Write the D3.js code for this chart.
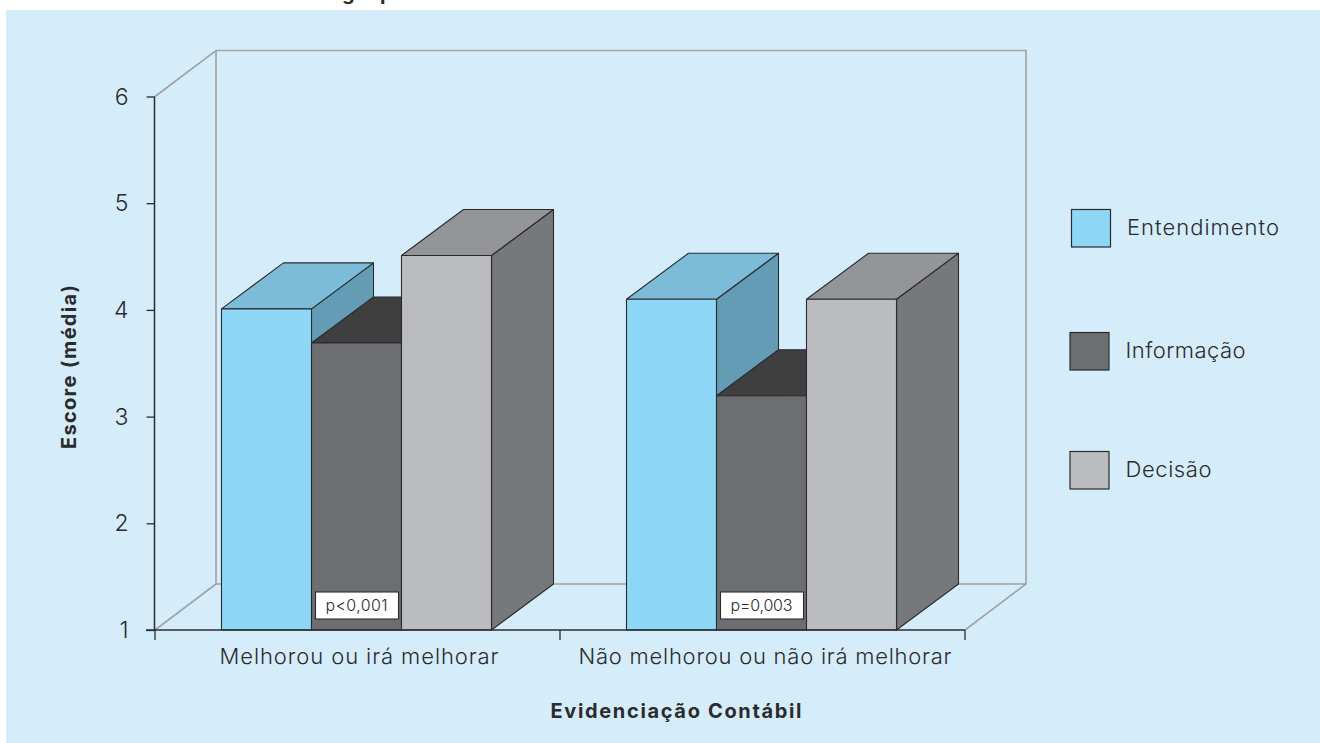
<!DOCTYPE html>
<html><head><meta charset="utf-8">
<script src="https://cdn.jsdelivr.net/npm/d3@7/dist/d3.min.js"></script>
<style>html,body{margin:0;padding:0;background:#fff}svg{display:block}
text{font-family:Inter,Roboto,sans-serif;fill:#2b2b2d}</style></head><body>
<script>
const categories=["Melhorou ou irá melhorar","Não melhorou ou não irá melhorar"];
const seriesNames=["Entendimento","Informação","Decisão"];
const entendimento=[4.01,4.10];
const informacao=[3.69,3.195];
const decisao=[4.51,4.10];
const series=[entendimento,informacao,decisao];
const yTicks=[1,2,3,4,5,6];
const pLabels=["p<0,001","p=0,003"];
const titleFragments=["g","p"];
const frontColors=["#8fd7f7","#6d6e71","#bbbcbf"];
const topColors=["#7cbcd9","#3f3f40","#939598"];
const sideColors=["#649cb6","#58585a","#77787b"];

const W=1320,H=743;
const svg=d3.select("body").append("svg").attr("width",W).attr("height",H);
svg.append("rect").attr("x",6).attr("y",10).attr("width",W-6).attr("height",H-10).attr("fill","#d5edfb");

const x0=155,x1=965,boxDx=61,dx=62,dy=-46;
const y=d3.scaleLinear().domain([1,6]).range([630,96.5]);
const xg=d3.scaleBand().domain(categories).range([x0-1,x1-1]).paddingInner(1/3).paddingOuter(1/6);
const xb=d3.scaleBand().domain(seriesNames).range([0,xg.bandwidth()]);

const g=svg.append("g");
const p=pts=>"M"+pts.map(a=>a.join(",")).join("L")+"Z";
g.append("path").attr("d",`M${x0},${y(6)}L${x0+boxDx},${y(6)+dy}H${x1+boxDx}V${y(1)+dy}H${x0+boxDx}V${y(6)+dy}M${x0},${y(1)}L${x0+boxDx},${y(1)+dy}M${x1},${y(1)}L${x1+boxDx},${y(1)+dy}`)
 .attr("fill","none").attr("stroke","#a0a2a4").attr("stroke-width",1.6);

categories.forEach((c,ci)=>{
  seriesNames.forEach((s,si)=>{
    const l=xg(c)+xb(s),r=l+xb.bandwidth(),t=y(series[si][ci]),b=y(1);
    const bar=g.append("g").attr("stroke","#2b2b2d").attr("stroke-width",1.1).attr("stroke-linejoin","round");
    bar.append("path").attr("d",p([[r,t],[r+dx,t+dy],[r+dx,b+dy],[r,b]])).attr("fill",sideColors[si]);
    bar.append("path").attr("d",p([[l,t],[l+dx,t+dy],[r+dx,t+dy],[r,t]])).attr("fill",topColors[si]);
    bar.append("rect").attr("x",l).attr("y",t).attr("width",r-l).attr("height",b-t).attr("fill",frontColors[si]);
  });
});

// axes
const ya=svg.append("g").attr("transform",`translate(${x0-0.5},0)`)
 .call(d3.axisLeft(y).tickValues(yTicks).tickFormat(d3.format("d")).tickSize(8).tickPadding(18));
ya.select(".domain").attr("stroke","#2b2b2d").attr("stroke-width",1.5).attr("d",`M0,${y(6)}V${y(1)}`);
ya.selectAll("line").attr("stroke","#2b2b2d").attr("stroke-width",1.3);
ya.selectAll("text").attr("font-size",23).attr("font-family","Inter").attr("font-weight",300).attr("dy","0.33em").style("fill","#2b2b2d");

const step=xg.step();
const catEdges=d3.range(categories.length+1).map(i=>x0+i*step);
svg.append("line").attr("x1",x0-9).attr("x2",x1).attr("y1",y(1)).attr("y2",y(1)).attr("stroke","#2b2b2d").attr("stroke-width",1.5);
svg.selectAll(".xt").data(catEdges).join("line").attr("x1",d=>d).attr("x2",d=>d).attr("y1",y(1)).attr("y2",y(1)+10).attr("stroke","#2b2b2d").attr("stroke-width",1.3);
const catX=[219.5,578.5],catLen=[279,373];
svg.selectAll(".xl").data(categories).join("text").attr("x",(d,i)=>catX[i]).attr("y",664)
 .attr("font-size",22).attr("font-weight",300).attr("textLength",(d,i)=>catLen[i]).attr("lengthAdjust","spacing").text(d=>d);

// p labels
categories.forEach((c,i)=>{
  const mx=xg(c)+xg.bandwidth()/2;
  svg.append("rect").attr("x",mx-41).attr("y",592).attr("width",83).attr("height",27).attr("fill","#fff").attr("stroke","#2b2b2d").attr("stroke-width",1.1);
  svg.append("text").attr("x",mx-31).attr("y",610.5).attr("font-size",16).attr("font-weight",300).attr("textLength",62).attr("lengthAdjust","spacing").text(pLabels[i]);
});

// legend
const lx=[1071.5,1070,1070],ly=[209.5,332.5,451.5],ltx=[1127,1125.5,1125.5],lty=[234.5,357.5,476.5],ltl=[152,120,86];
seriesNames.forEach((s,i)=>{
  svg.append("rect").attr("x",lx[i]).attr("y",ly[i]).attr("width",39).attr("height",37.5).attr("fill",frontColors[i]).attr("stroke","#2b2b2d").attr("stroke-width",1.2);
  svg.append("text").attr("x",ltx[i]).attr("y",lty[i]).attr("font-size",22).attr("font-weight",300).attr("textLength",ltl[i]).attr("lengthAdjust","spacing").text(s);
});

// titles
svg.append("text").attr("transform","translate(76,449) rotate(-90)").attr("font-size",20).attr("font-weight",700).attr("textLength",164).attr("lengthAdjust","spacing").text("Escore (média)");
svg.append("text").attr("x",550.5).attr("y",718).attr("font-size",20).attr("font-weight",700).attr("textLength",251).attr("lengthAdjust","spacing").text("Evidenciação Contábil");
// remnant of the title cut off by the top edge of the picture
const fragX=[342,380];
svg.selectAll(".frag").data(titleFragments).join("text").attr("x",(d,i)=>fragX[i]).attr("y",0).attr("font-size",20).attr("font-weight",700).text(d=>d);
</script></body></html>
